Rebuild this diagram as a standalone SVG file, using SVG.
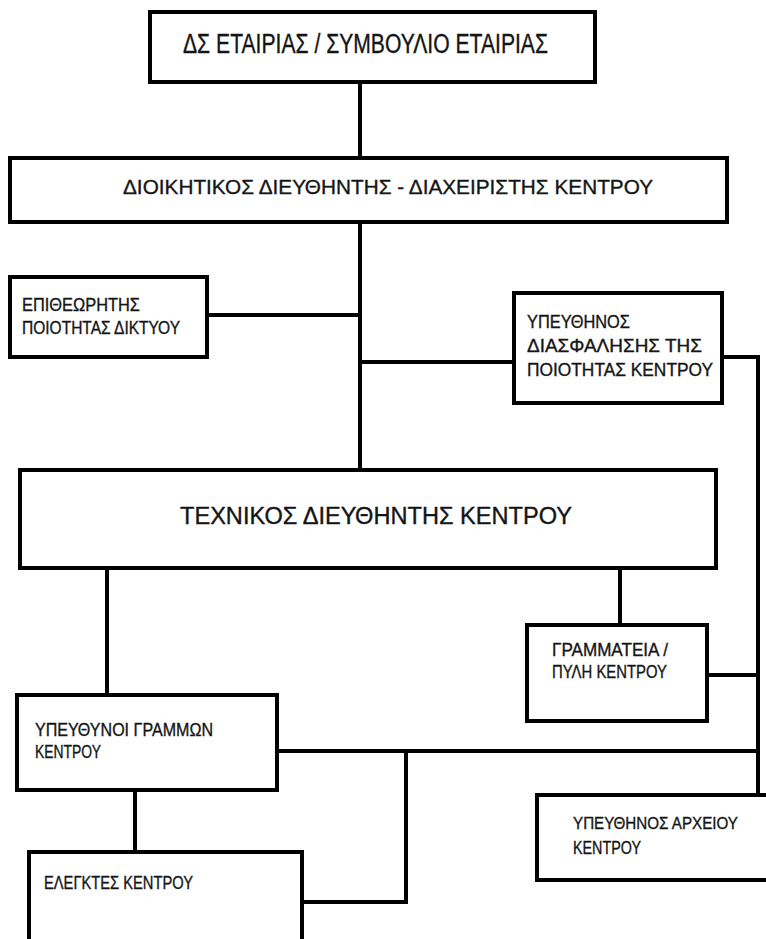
<svg xmlns="http://www.w3.org/2000/svg" width="766" height="939" viewBox="0 0 766 939">
<style>
.box{fill:#fff;stroke:#000;stroke-width:4}
.ln{fill:none;stroke:#000;stroke-width:4}
text{font-family:"Liberation Sans",Arial,sans-serif;fill:#151515;stroke:#151515;stroke-width:0.35}
.s{font-size:18px}
</style>
<rect width="766" height="939" fill="#fff"/>
<g id="connectors">
<path class="ln" d="M360 82V158"/>
<path class="ln" d="M360 222V470"/>
<path class="ln" d="M207 315H360"/>
<path class="ln" d="M360 362H514"/>
<path class="ln" d="M722 357H758V795"/>
<path class="ln" d="M707 675H758"/>
<path class="ln" d="M277 751H758"/>
<path class="ln" d="M107 568V695"/>
<path class="ln" d="M620 568V625"/>
<path class="ln" d="M135 790V852"/>
<path class="ln" d="M302 902H406V751"/>
</g>
<g id="n1">
<rect class="box" x="150" y="12" width="445" height="70"/>
<text x="183" y="53" font-size="27" textLength="365" lengthAdjust="spacingAndGlyphs">ΔΣ ΕΤΑΙΡΙΑΣ / ΣΥΜΒΟΥΛΙΟ ΕΤΑΙΡΙΑΣ</text>
</g>
<g id="n2">
<rect class="box" x="10" y="158" width="717" height="64"/>
<text x="123" y="194" font-size="21" textLength="530" lengthAdjust="spacingAndGlyphs">ΔΙΟΙΚΗΤΙΚΟΣ ΔΙΕΥΘΗΝΤΗΣ - ΔΙΑΧΕΙΡΙΣΤΗΣ ΚΕΝΤΡΟΥ</text>
</g>
<g id="n3">
<rect class="box" x="10" y="277" width="197" height="80"/>
<text class="s" x="22" y="311" textLength="118" lengthAdjust="spacingAndGlyphs">ΕΠΙΘΕΩΡΗΤΗΣ</text>
<text class="s" x="22" y="334" textLength="158" lengthAdjust="spacingAndGlyphs">ΠΟΙΟΤΗΤΑΣ ΔΙΚΤΥΟΥ</text>
</g>
<g id="n4">
<rect class="box" x="514" y="293" width="208" height="110"/>
<text class="s" x="527" y="328" textLength="103" lengthAdjust="spacingAndGlyphs">ΥΠΕΥΘΗΝΟΣ</text>
<text class="s" x="527" y="352" textLength="175" lengthAdjust="spacingAndGlyphs">ΔΙΑΣΦΑΛΗΣΗΣ ΤΗΣ</text>
<text class="s" x="527" y="376" textLength="186" lengthAdjust="spacingAndGlyphs">ΠΟΙΟΤΗΤΑΣ ΚΕΝΤΡΟΥ</text>
</g>
<g id="n5">
<rect class="box" x="20" y="470" width="696" height="98"/>
<text x="180" y="524" font-size="23" textLength="392" lengthAdjust="spacingAndGlyphs">ΤΕΧΝΙΚΟΣ ΔΙΕΥΘΗΝΤΗΣ ΚΕΝΤΡΟΥ</text>
</g>
<g id="n6">
<rect class="box" x="527" y="625" width="180" height="96"/>
<text class="s" x="552" y="656" textLength="116" lengthAdjust="spacingAndGlyphs">ΓΡΑΜΜΑΤΕΙΑ /</text>
<text class="s" x="552" y="678" textLength="115" lengthAdjust="spacingAndGlyphs">ΠΥΛΗ ΚΕΝΤΡΟΥ</text>
</g>
<g id="n7">
<rect class="box" x="17" y="695" width="260" height="95"/>
<text class="s" x="35" y="736" textLength="178" lengthAdjust="spacingAndGlyphs">ΥΠΕΥΘΥΝΟΙ ΓΡΑΜΜΩΝ</text>
<text class="s" x="35" y="758" textLength="66" lengthAdjust="spacingAndGlyphs">ΚΕΝΤΡΟΥ</text>
</g>
<g id="n8">
<rect class="box" x="29" y="852" width="273" height="100"/>
<text class="s" x="44" y="889" textLength="149" lengthAdjust="spacingAndGlyphs">ΕΛΕΓΚΤΕΣ ΚΕΝΤΡΟΥ</text>
</g>
<g id="n9">
<rect class="box" x="537" y="795" width="240" height="85"/>
<text x="573" y="829" font-size="17" textLength="165" lengthAdjust="spacingAndGlyphs">ΥΠΕΥΘΗΝΟΣ ΑΡΧΕΙΟΥ</text>
<text class="s" x="573" y="854" textLength="68" lengthAdjust="spacingAndGlyphs">ΚΕΝΤΡΟΥ</text>
</g>
</svg>
